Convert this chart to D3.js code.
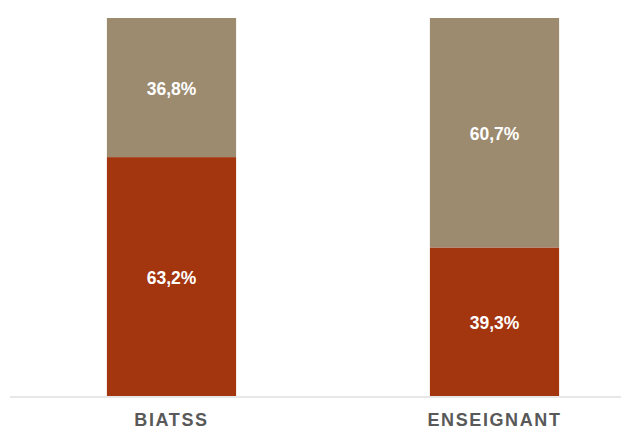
<!DOCTYPE html>
<html>
<head>
<meta charset="utf-8">
<script src="https://cdn.jsdelivr.net/npm/d3@7"></script>
<style>
  html, body { margin: 0; padding: 0; background: #ffffff; }
  svg { display: block; }
</style>
</head>
<body>
<svg id="chart" width="621" height="430"></svg>
<script>
// Share of staff by category (percent), stacked to 100%
const categories = ["BIATSS", "ENSEIGNANT"];
const bottomShare = [63.2, 39.3];   // red segment
const topShare = [36.8, 60.7];      // tan segment
const seriesColors = ["#a3350f", "#9c8b6f"];

const svg = d3.select("#chart");
const W = 621;

const x = d3.scaleBand()
  .domain(categories)
  .range([10, 656])
  .paddingInner(0.6)
  .paddingOuter(0.3);

const y = d3.scaleLinear()
  .domain([0, 100])
  .range([396, 18]);

const rows = categories.map((c, i) => ({ cat: c, bottom: bottomShare[i], top: topShare[i] }));
const stack = d3.stack().keys(["bottom", "top"])(rows);

const fmt = v => v.toFixed(1).replace(".", ",") + "%";

stack.forEach((layer, li) => {
  const g = svg.append("g");
  g.selectAll("rect")
    .data(layer)
    .join("rect")
    .attr("x", d => x(d.data.cat))
    .attr("width", x.bandwidth())
    .attr("y", d => y(d[1]))
    .attr("height", d => y(d[0]) - y(d[1]))
    .attr("fill", seriesColors[li]);

  g.selectAll("text")
    .data(layer)
    .join("text")
    .attr("x", d => x(d.data.cat) + x.bandwidth() / 2)
    .attr("y", d => (y(d[0]) + y(d[1])) / 2 + 1.5)
    .attr("dy", "0.35em")
    .attr("text-anchor", "middle")
    .attr("fill", "#ffffff")
    .attr("font-family", "Liberation Sans, Arial, sans-serif")
    .attr("font-weight", "bold")
    .attr("font-size", 17.5)
    .text(d => fmt(d.data[layer.key]));
});

// baseline
svg.append("line")
  .attr("x1", 10).attr("x2", W)
  .attr("y1", y(0) + 1).attr("y2", y(0) + 1)
  .attr("stroke", "#d0d0d0")
  .attr("stroke-width", 1.2);

// category axis
const axis = svg.append("g")
  .attr("transform", `translate(0,${y(0) + 1})`)
  .call(d3.axisBottom(x).tickSize(0).tickPadding(16));
axis.select(".domain").remove();
axis.selectAll("text")
  .attr("fill", "#595959")
  .attr("font-family", "Liberation Sans, Arial, sans-serif")
  .attr("font-weight", "bold")
  .attr("font-size", 18)
  .attr("letter-spacing", "1.6px");
</script>
</body>
</html>
